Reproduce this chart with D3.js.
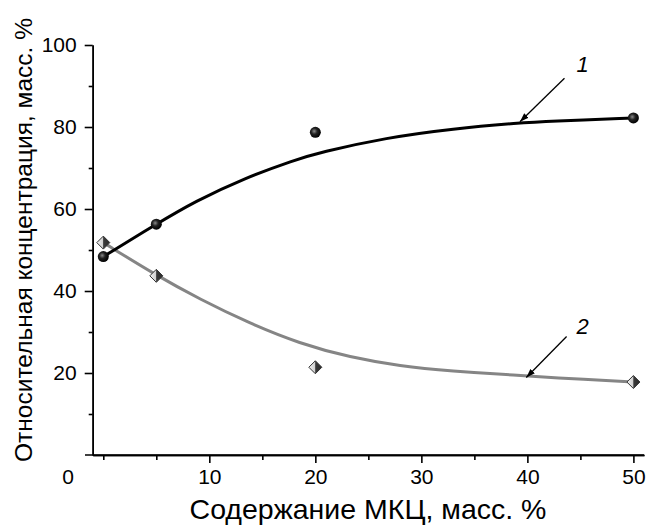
<!DOCTYPE html>
<html>
<head>
<meta charset="utf-8">
<script src="https://cdn.jsdelivr.net/npm/d3@7"></script>
<style>
  body { margin: 0; background: #fff; }
  text { font-family: "Liberation Sans", Arial, sans-serif; }
</style>
</head>
<body>
<div id="chart"></div>
<script>
var width = 649;
var height = 526;

// measured points
var xPoints = [0, 5, 20, 50];
var series1 = [48.4, 56.3, 78.7, 82.2];
var series2 = [51.8, 43.7, 21.4, 17.8];

// fitted curves
var curve1X = [0, 5, 8.6, 13.4, 18, 20.4, 26.7, 33, 39.3, 42, 50];
var curve1 = [48.4, 56.3, 61.8, 67.6, 71.9, 73.8, 77.4, 79.6, 81.0, 81.4, 82.2];
var curve2X = [0, 5, 9.1, 13.8, 18.5, 23.3, 28, 32.7, 39.3, 42.1, 50];
var curve2 = [51.8, 43.8, 38.0, 32.1, 27.2, 23.8, 21.7, 20.5, 19.4, 18.9, 17.8];

var xMajor = [10, 20, 30, 40, 50];
var xMinor = [0, 5, 15, 25, 35, 45];
var yMajor = [20, 40, 60, 80, 100];
var yMinor = [10, 30, 50, 70, 90];

// arrows pointing at the curves, with curve numbers
var arrows = [
    { tail: [43.5, 91.9], tip: [39.3, 81.3], label: "1", at: [45.2, 93.5] },
    { tail: [43.7, 28.9], tip: [39.9, 18.9], label: "2", at: [45.2, 29.5] }
];

var svg = d3.select("#chart")
    .append("svg")
    .attr("width", width)
    .attr("height", height);

var defs = svg.append("defs");

var ball = defs.append("radialGradient")
    .attr("id", "ball")
    .attr("cx", "40%").attr("cy", "40%").attr("r", "60%");
ball.append("stop").attr("offset", "0%").attr("stop-color", "#8a8a8a");
ball.append("stop").attr("offset", "45%").attr("stop-color", "#222");
ball.append("stop").attr("offset", "100%").attr("stop-color", "#000");

var half = defs.append("linearGradient")
    .attr("id", "half")
    .attr("x1", "0%").attr("x2", "100%");
half.append("stop").attr("offset", "0%").attr("stop-color", "#f2f2f2");
half.append("stop").attr("offset", "48%").attr("stop-color", "#cfcfcf");
half.append("stop").attr("offset", "52%").attr("stop-color", "#3a3a3a");
half.append("stop").attr("offset", "100%").attr("stop-color", "#2a2a2a");

defs.append("marker")
    .attr("id", "arrowhead")
    .attr("viewBox", "0 0 10 10")
    .attr("refX", 10).attr("refY", 5)
    .attr("markerWidth", 9).attr("markerHeight", 9)
    .attr("markerUnits", "userSpaceOnUse")
    .attr("orient", "auto")
    .append("path")
    .attr("d", "M0,1.5 L10,5 L0,8.5 Z")
    .attr("fill", "#000");

var xScale = d3.scaleLinear().domain([-1, 51]).range([92.7, 644]);
var yScale = d3.scaleLinear().domain([0, 100]).range([455, 45]);

// y axis
var yAxisG = svg.append("g").attr("transform", "translate(92.7,0)");
yAxisG.append("g")
    .call(d3.axisLeft(yScale).tickValues(yMajor).tickSize(8).tickSizeOuter(0).tickPadding(8));
yAxisG.append("g")
    .call(d3.axisLeft(yScale).tickValues(yMinor).tickSize(4).tickSizeOuter(0).tickFormat(""));

// x axis
var xAxisG = svg.append("g").attr("transform", "translate(0,455)");
xAxisG.append("g")
    .call(d3.axisBottom(xScale).tickValues(xMajor).tickSize(8).tickSizeOuter(0).tickPadding(6));
xAxisG.append("g")
    .call(d3.axisBottom(xScale).tickValues(xMinor).tickSize(5).tickSizeOuter(0).tickFormat(""));
xAxisG.append("line")
    .attr("x1", 85).attr("x2", xScale.range()[1])
    .attr("stroke", "#000").attr("stroke-width", 1.6);

svg.selectAll(".domain").attr("stroke", "#000").attr("stroke-width", 1.6);
svg.selectAll(".tick line").attr("stroke", "#000").attr("stroke-width", 1.6);
svg.selectAll(".tick text")
    .attr("font-size", 21)
    .attr("fill", "#000")
    .style("font-family", "'Liberation Sans', Arial, sans-serif");

svg.append("text")
    .attr("x", 68).attr("y", 455 + 14)
    .attr("dy", "0.71em")
    .attr("text-anchor", "middle")
    .attr("font-size", 21)
    .text("0");

// axis titles
svg.append("text")
    .attr("x", 368).attr("y", 519)
    .attr("text-anchor", "middle")
    .attr("font-size", 28.5)
    .text("Содержание МКЦ, масс. %");

svg.append("text")
    .attr("transform", "translate(32,240) rotate(-90)")
    .attr("text-anchor", "middle")
    .attr("font-size", 24.5)
    .text("Относительная концентрация, масс. %");

// curves
var line = d3.line()
    .x(function (d) { return xScale(d[0]); })
    .y(function (d) { return yScale(d[1]); })
    .curve(d3.curveBasis);

svg.append("path")
    .datum(curve2X.map(function (x, i) { return [x, curve2[i]]; }))
    .attr("d", line)
    .attr("fill", "none")
    .attr("stroke", "#858585")
    .attr("stroke-width", 3);

svg.append("path")
    .datum(curve1X.map(function (x, i) { return [x, curve1[i]]; }))
    .attr("d", line)
    .attr("fill", "none")
    .attr("stroke", "#000")
    .attr("stroke-width", 3);

// markers
svg.append("g")
    .selectAll("path")
    .data(xPoints.map(function (x, i) { return [x, series2[i]]; }))
    .enter()
    .append("path")
    .attr("transform", function (d) { return "translate(" + xScale(d[0]) + "," + yScale(d[1]) + ")"; })
    .attr("d", "M0,-6.5 L6.5,0 L0,6.5 L-6.5,0 Z")
    .attr("fill", "url(#half)")
    .attr("stroke", "#333")
    .attr("stroke-width", 1);

svg.append("g")
    .selectAll("circle")
    .data(xPoints.map(function (x, i) { return [x, series1[i]]; }))
    .enter()
    .append("circle")
    .attr("cx", function (d) { return xScale(d[0]); })
    .attr("cy", function (d) { return yScale(d[1]); })
    .attr("r", 5.5)
    .attr("fill", "url(#ball)");

// arrows and labels
arrows.forEach(function (a) {
    svg.append("line")
        .attr("x1", xScale(a.tail[0])).attr("y1", yScale(a.tail[1]))
        .attr("x2", xScale(a.tip[0])).attr("y2", yScale(a.tip[1]))
        .attr("stroke", "#000")
        .attr("stroke-width", 1.3)
        .attr("marker-end", "url(#arrowhead)");
    svg.append("text")
        .attr("x", xScale(a.at[0])).attr("y", yScale(a.at[1]))
        .attr("text-anchor", "middle")
        .attr("font-size", 22)
        .attr("font-style", "italic")
        .text(a.label);
});
</script>
</body>
</html>
